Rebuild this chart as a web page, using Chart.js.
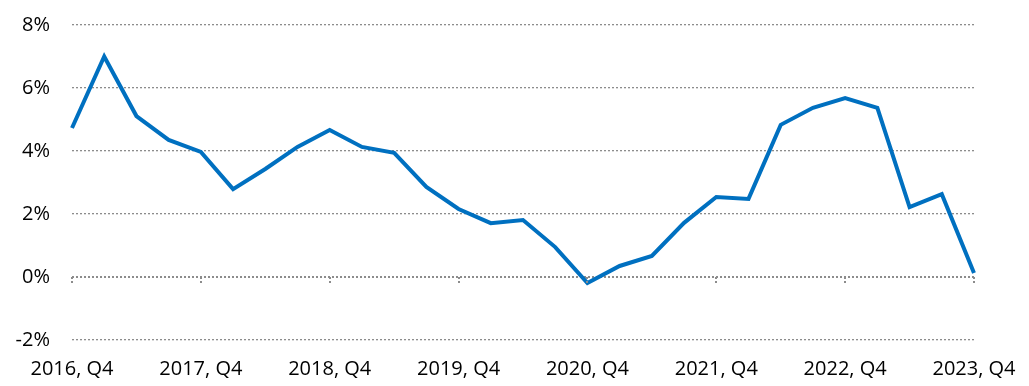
<!DOCTYPE html>
<html>
<head>
<meta charset="utf-8">
<script src="https://cdn.jsdelivr.net/npm/chart.js@4.4.1/dist/chart.umd.min.js"></script>
<style>
    html, body { margin: 0; padding: 0; background: #fff; }
    #wrap { width: 1029px; height: 386px; position: relative; }
</style>
</head>
<body>
<div id="wrap"><canvas id="growthChart"></canvas></div>
<script>
// Quarters from 2016 Q4 through 2023 Q4
const QUARTERS = [
    '2016, Q4',
    '2017, Q1', '2017, Q2', '2017, Q3', '2017, Q4',
    '2018, Q1', '2018, Q2', '2018, Q3', '2018, Q4',
    '2019, Q1', '2019, Q2', '2019, Q3', '2019, Q4',
    '2020, Q1', '2020, Q2', '2020, Q3', '2020, Q4',
    '2021, Q1', '2021, Q2', '2021, Q3', '2021, Q4',
    '2022, Q1', '2022, Q2', '2022, Q3', '2022, Q4',
    '2023, Q1', '2023, Q2', '2023, Q3', '2023, Q4'
];

// Growth rate, percent
const GROWTH = [
    4.73,
    7.0, 5.11, 4.35, 3.97,
    2.79, 3.43, 4.13, 4.67,
    4.13, 3.94, 2.86, 2.16,
    1.71, 1.81, 0.95, -0.19,
    0.35, 0.67, 1.72, 2.54,
    2.48, 4.83, 5.37, 5.68,
    5.37, 2.22, 2.63, 0.13
];

const Y_MIN = -2;
const Y_MAX = 8;
const Y_STEP = 2;

const LINE_BLUE = '#0070C0';
const GRID_GREY = '#8c8c8c';
const FONT = "'Open Sans', 'Noto Sans', sans-serif";

// small dotted tick marks hanging off the 0% line at each labelled quarter
const zeroTicks = {
    id: 'zeroTicks',
    afterDatasetsDraw(chart) {
        const { ctx, scales: { x, y } } = chart;
        const y0 = y.getPixelForValue(0);
        ctx.save();
        ctx.strokeStyle = GRID_GREY;
        ctx.lineWidth = 2;
        ctx.setLineDash([2, 2]);
        QUARTERS.forEach((q, i) => {
            if (i % 4 !== 0) return;
            const px = Math.round(x.getPixelForValue(i));
            ctx.beginPath();
            ctx.moveTo(px, y0);
            ctx.lineTo(px, y0 + 7);
            ctx.stroke();
        });
        ctx.restore();
    }
};

new Chart(document.getElementById('growthChart'), {
    type: 'line',
    data: {
        labels: QUARTERS,
        datasets: [{
            data: GROWTH,
            borderColor: LINE_BLUE,
            borderWidth: 4,
            pointRadius: 0,
            tension: 0,
            fill: false
        }]
    },
    options: {
        responsive: true,
        maintainAspectRatio: false,
        animation: false,
        layout: { padding: { top: 25, right: 55, left: 0, bottom: 0 } },
        plugins: {
            legend: { display: false },
            tooltip: { enabled: false }
        },
        scales: {
            x: {
                offset: false,
                grid: { display: false },
                border: { display: false },
                ticks: {
                    autoSkip: false,
                    maxRotation: 0,
                    padding: 9,
                    color: '#000',
                    font: { size: 20, family: FONT },
                    callback: (v, i) => (i % 4 === 0 ? QUARTERS[i] : '')
                },
                afterFit: s => {
                    s.height = 46;
                    s.paddingLeft = 0;
                    s.paddingRight = 0;
                }
            },
            y: {
                min: Y_MIN,
                max: Y_MAX,
                grid: {
                    color: GRID_GREY,
                    lineWidth: c => (c.tick && c.tick.value === 0 ? 2 : 1.3),
                    drawTicks: false
                },
                border: { display: false, dash: [2, 2] },
                ticks: {
                    stepSize: Y_STEP,
                    padding: 22,
                    color: '#000',
                    font: { size: 20, family: FONT },
                    callback: v => v + '%'
                },
                afterFit: s => {
                    s.width = 72;
                    s.paddingTop = 0;
                    s.paddingBottom = 0;
                }
            }
        }
    },
    plugins: [zeroTicks]
});
</script>
</body>
</html>
